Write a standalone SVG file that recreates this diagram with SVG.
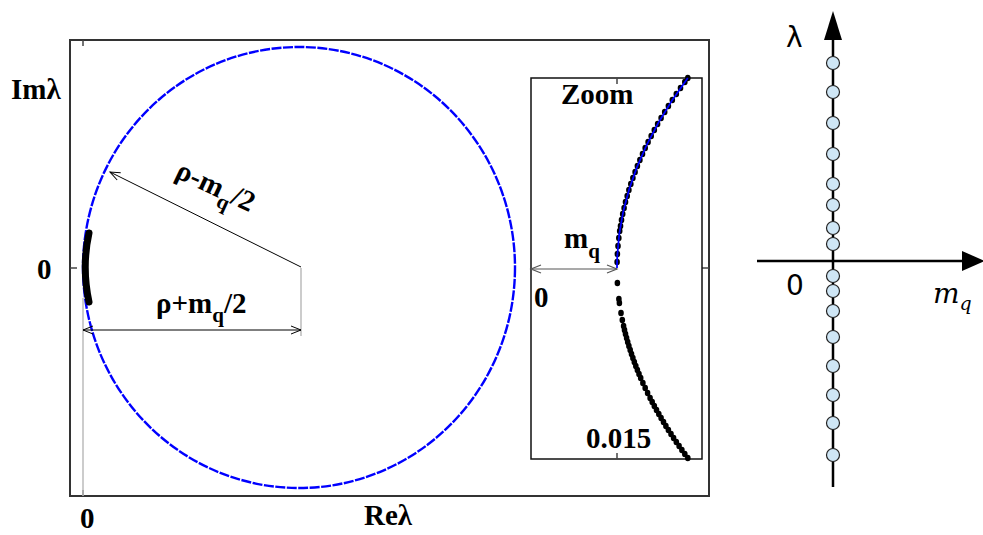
<svg xmlns="http://www.w3.org/2000/svg" width="983" height="535" viewBox="0 0 983 535">
<style>
.frame{fill:none;stroke:#333;stroke-width:2}
.lbl{font-family:"Liberation Serif",serif;font-weight:bold;font-size:29px;fill:#000}
.sub{font-size:21px}
.gray{stroke:#bbb;stroke-width:1.5;fill:none}
.tick{stroke:#444;stroke-width:1.5}
.arr{stroke:#000;stroke-width:1;fill:none}
.dot{fill:#000}
.bead{fill:#cfe6f5;stroke:#222;stroke-width:1.2}
.sans{font-family:"DejaVu Sans",sans-serif;font-size:28px;fill:#000}
</style>
<defs>
<marker id="open" markerUnits="userSpaceOnUse" markerWidth="14" markerHeight="12" viewBox="-12 -6 14 12" refX="0" refY="0" orient="auto-start-reverse">
<path d="M-10,-4 L0,0 L-10,4" fill="none" stroke="#000" stroke-width="1"/>
</marker>
<marker id="openg" markerUnits="userSpaceOnUse" markerWidth="14" markerHeight="12" viewBox="-12 -6 14 12" refX="0" refY="0" orient="auto-start-reverse">
<path d="M-10,-4 L0,0 L-10,4" fill="none" stroke="#555" stroke-width="1.2"/>
</marker>
<ellipse id="d" rx="2.8" ry="3.3"/>
<circle id="b" r="6.5"/>
</defs>

<g id="main-plot">
<rect class="frame" x="70" y="40" width="639" height="456"/>
<line class="tick" x1="83" y1="40" x2="83" y2="46"/>
<line class="tick" x1="83" y1="490" x2="83" y2="496"/>
<line class="tick" x1="70" y1="268" x2="77" y2="268"/>
<line class="tick" x1="702" y1="268" x2="709" y2="268"/>
<line class="gray" x1="83" y1="298" x2="83" y2="496"/>
<line class="gray" x1="301" y1="268" x2="301" y2="336"/>
<ellipse cx="299" cy="267.5" rx="216" ry="220.5" fill="none" stroke="#0000ff" stroke-width="2.4" stroke-dasharray="10 1.5"/>
<path d="M89,233 Q81.5,267 89,302" fill="none" stroke="#000" stroke-width="7" stroke-linecap="round"/>
<text class="lbl" x="11" y="99">Imλ</text>
<text class="lbl" x="37" y="279">0</text>
<text class="lbl" x="80" y="528">0</text>
<text class="lbl" x="364" y="525">Reλ</text>
<text class="lbl" x="156" y="313">ρ+m<tspan class="sub" dy="9">q</tspan><tspan dy="-9">/2</tspan></text>
<text class="lbl" transform="translate(174,177) rotate(25)">ρ-m<tspan class="sub" dy="9">q</tspan><tspan dy="-9">/2</tspan></text>
</g>

<g id="inset">
<rect x="531" y="78" width="171" height="381" fill="#fff" stroke="#111" stroke-width="1.5"/>
<line class="tick" x1="617" y1="78" x2="617" y2="84"/>
<line class="tick" x1="617" y1="453" x2="617" y2="459"/>
<text class="lbl" x="561" y="104">Zoom</text>
<text class="lbl" x="564" y="248">m<tspan class="sub" dy="10">q</tspan></text>
<text class="lbl" x="534" y="307">0</text>
<text class="lbl" x="586" y="448">0.015</text>
<g class="dot">
<use href="#d" x="617.1" y="262"/><use href="#d" x="617.4" y="254"/><use href="#d" x="618" y="246"/><use href="#d" x="618.8" y="238"/><use href="#d" x="619.7" y="231"/><use href="#d" x="620.5" y="226"/><use href="#d" x="621.5" y="220"/><use href="#d" x="622.7" y="214"/><use href="#d" x="624.1" y="208"/><use href="#d" x="625.5" y="202"/><use href="#d" x="627.2" y="196"/><use href="#d" x="628.9" y="190"/><use href="#d" x="630.8" y="184"/><use href="#d" x="632.9" y="178"/><use href="#d" x="635.1" y="172"/><use href="#d" x="637.4" y="166"/><use href="#d" x="639.9" y="160"/><use href="#d" x="642.5" y="154"/><use href="#d" x="645.2" y="148"/><use href="#d" x="648.1" y="142"/><use href="#d" x="651.2" y="136"/><use href="#d" x="654.3" y="130"/><use href="#d" x="657.6" y="124"/><use href="#d" x="661.1" y="118"/><use href="#d" x="664.7" y="112"/><use href="#d" x="668.4" y="106"/><use href="#d" x="672.3" y="100"/><use href="#d" x="676.3" y="94"/><use href="#d" x="680.5" y="88"/><use href="#d" x="684.8" y="82"/><use href="#d" x="687.8" y="78"/>
<use href="#d" x="617.4" y="283"/><use href="#d" x="618.9" y="299"/><use href="#d" x="619.4" y="303"/><use href="#d" x="621" y="313"/><use href="#d" x="622.3" y="320"/><use href="#d" x="623.6" y="326"/><use href="#d" x="624.5" y="330"/><use href="#d" x="625.5" y="334"/><use href="#d" x="626.6" y="338"/><use href="#d" x="627.7" y="342"/><use href="#d" x="628.9" y="346"/><use href="#d" x="630.2" y="350"/><use href="#d" x="631.5" y="354"/><use href="#d" x="632.9" y="358"/><use href="#d" x="634.3" y="362"/><use href="#d" x="635.8" y="366"/><use href="#d" x="637.4" y="370"/><use href="#d" x="639" y="374"/><use href="#d" x="640.7" y="378"/><use href="#d" x="642.9" y="383"/><use href="#d" x="645.2" y="388"/><use href="#d" x="647.6" y="393"/><use href="#d" x="650.1" y="398"/><use href="#d" x="652.2" y="402"/><use href="#d" x="654.3" y="406"/><use href="#d" x="656.5" y="410"/><use href="#d" x="658.8" y="414"/><use href="#d" x="661.1" y="418"/><use href="#d" x="663.5" y="422"/><use href="#d" x="665.9" y="426"/><use href="#d" x="668.4" y="430"/><use href="#d" x="671" y="434"/><use href="#d" x="673.6" y="438"/><use href="#d" x="676.3" y="442"/><use href="#d" x="679.1" y="446"/><use href="#d" x="681.9" y="450"/><use href="#d" x="684.8" y="454"/><use href="#d" x="687.8" y="458"/>
</g>
<path d="M617,268 Q617,173 687.8,78" fill="none" stroke="#0000ff" stroke-width="1.8"/>
</g>

<g id="connectors">
<line class="arr" x1="301" y1="267" x2="110" y2="172" marker-end="url(#open)"/>
<line class="arr" x1="83" y1="330" x2="301" y2="330" marker-start="url(#open)" marker-end="url(#open)"/>
<line x1="531" y1="269" x2="617" y2="269" stroke="#555" stroke-width="1.2" marker-start="url(#openg)" marker-end="url(#openg)"/>
</g>

<g id="right-axes">
<line x1="833" y1="487" x2="833" y2="36" stroke="#000" stroke-width="2.5"/>
<polygon points="833,11 842,40 824,40" fill="#000"/>
<line x1="757" y1="261" x2="966" y2="261" stroke="#000" stroke-width="2.5"/>
<polygon points="985,261 962,251 962,271" fill="#000"/>
<text class="sans" x="786" y="47">λ</text>
<text class="sans" x="786" y="295">0</text>
<text x="933" y="303" font-family="DejaVu Serif,serif" font-style="italic" font-size="28">m<tspan font-size="19" dy="7">q</tspan></text>
<g class="bead">
<use href="#b" x="833" y="63"/><use href="#b" x="833" y="92"/><use href="#b" x="833" y="123"/><use href="#b" x="833" y="154"/><use href="#b" x="833" y="184"/><use href="#b" x="833" y="205"/><use href="#b" x="833" y="228"/><use href="#b" x="833" y="244"/><use href="#b" x="833" y="276"/><use href="#b" x="833" y="291"/><use href="#b" x="833" y="311"/><use href="#b" x="833" y="337"/><use href="#b" x="833" y="366"/><use href="#b" x="833" y="395"/><use href="#b" x="833" y="423"/><use href="#b" x="833" y="455"/>
</g>
</g>
</svg>
